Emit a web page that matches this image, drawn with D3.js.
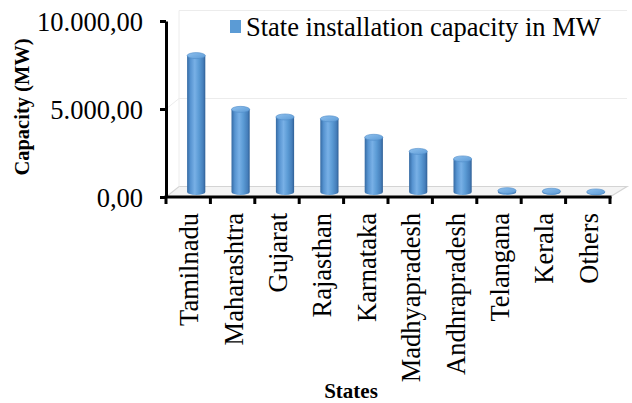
<!DOCTYPE html>
<html>
<head>
<meta charset="utf-8">
<script src="https://cdn.jsdelivr.net/npm/d3@7/dist/d3.min.js"></script>
<style>
  html, body { margin: 0; padding: 0; background: #fff; }
  svg { display: block; }
  text { font-family: "Liberation Serif", "Times New Roman", serif; fill: #000; }
</style>
</head>
<body>
<svg id="chart" width="632" height="403"></svg>
<script>
// Wind power installed capacity by state (MW)
const states = ["Tamilnadu", "Maharashtra", "Gujarat", "Rajasthan", "Karnataka",
                "Madhyapradesh", "Andhrapradesh", "Telangana", "Kerala", "Others"];
const capacity = [7684, 4655, 4227, 4123, 3082, 2288, 1866, 77, 43, 4];
const yTicks = [0, 5000, 10000];
const seriesName = "State installation capacity in MW";
const yTitle = "Capacity (MW)";
const xTitle = "States";

(function draw() {
  const svg = d3.select("#chart");
  const serif = "'Liberation Serif', 'Times New Roman', serif";

  // Front plane of the 3-D plot
  const plotL = 166, plotR = 610, plotB = 197, plotT = 21;
  // Depth of the floor / back wall and position of the cylinders inside it
  const depthX = 13, depthY = -10.5;
  const barDX = 8, barDY = -5;

  const x = d3.scaleBand().domain(states).range([plotL, plotR]).paddingInner(0).paddingOuter(0);
  const y = d3.scaleLinear().domain([0, 10000]).range([plotB, plotT]);
  const yBar = d3.scaleLinear().domain([0, 10000]).range([plotB + barDY, plotT + barDY - 1.5]);

  const locale = d3.formatLocale({ decimal: ",", thousands: ".", grouping: [3], currency: ["", ""] });
  const fmt = locale.format(",.2f");

  const defs = svg.append("defs");
  const grad = defs.append("linearGradient").attr("id", "cyl").attr("x1", "0").attr("x2", "1").attr("y1", "0").attr("y2", "0");
  [[0, "#356aa3"], [0.18, "#5693d0"], [0.42, "#78b0e6"], [0.65, "#5b9bd5"], [0.88, "#467fbb"], [1, "#2f5f95"]]
    .forEach(([o, c]) => grad.append("stop").attr("offset", o).attr("stop-color", c));
  const gradTop = defs.append("linearGradient").attr("id", "cylTop").attr("x1", "0").attr("x2", "1").attr("y1", "0").attr("y2", "1");
  [[0, "#8ec0ee"], [1, "#5d9bd6"]].forEach(([o, c]) => gradTop.append("stop").attr("offset", o).attr("stop-color", c));

  // Floor
  svg.append("polygon")
    .attr("points", [[plotL, plotB], [plotL + depthX, plotB + depthY], [plotR + depthX + 4, plotB + depthY], [plotR, plotB]].map(p => p.join(",")).join(" "))
    .attr("fill", "#f4f4f4").attr("stroke", "#d4d4d4").attr("stroke-width", 1.2);

  // Back wall grid lines
  svg.append("g").selectAll("line").data(yTicks.filter(v => v > 0)).join("line")
    .attr("x1", plotL + depthX).attr("x2", plotR + depthX + 4)
    .attr("y1", d => y(d) + depthY).attr("y2", d => y(d) + depthY)
    .attr("stroke", "#ececec").attr("stroke-width", 1);
  svg.append("line")
    .attr("x1", plotL + depthX).attr("x2", plotL + depthX)
    .attr("y1", y(10000) + depthY).attr("y2", plotB + depthY)
    .attr("stroke", "#ececec").attr("stroke-width", 1);
  svg.append("line")
    .attr("x1", plotL).attr("x2", plotL + depthX)
    .attr("y1", y(5000)).attr("y2", y(5000) + depthY)
    .attr("stroke", "#ececec").attr("stroke-width", 1);

  // Cylinders
  const bw = x.bandwidth() * 0.41;
  const ry = 3;
  const bars = svg.append("g").selectAll("g").data(states.map((s, i) => ({ s, v: capacity[i] }))).join("g");
  bars.append("path")
    .attr("d", d => {
      const cx = x(d.s) + x.bandwidth() / 2 + barDX;
      const y0 = yBar(0), y1 = yBar(d.v);
      const r = bw / 2;
      return `M${cx - r},${y1} L${cx - r},${y0} A${r},${ry} 0 0 0 ${cx + r},${y0} L${cx + r},${y1} Z`;
    })
    .attr("fill", "url(#cyl)");
  bars.append("ellipse")
    .attr("cx", d => x(d.s) + x.bandwidth() / 2 + barDX)
    .attr("cy", d => yBar(d.v))
    .attr("rx", bw / 2).attr("ry", ry)
    .attr("fill", "url(#cylTop)").attr("stroke", "#4f8cc8").attr("stroke-width", 0.6);

  // Y axis
  const yAxis = d3.axisLeft(y).tickValues(yTicks).tickSize(6).tickSizeOuter(0).tickFormat(fmt);
  const gy = svg.append("g").attr("transform", `translate(${plotL},0)`).call(yAxis);
  gy.select(".domain").attr("stroke", "#000").attr("stroke-width", 3);
  gy.selectAll(".tick line").attr("stroke", "#000").attr("stroke-width", 3);
  gy.selectAll(".tick text").attr("x", -23).attr("dy", "0.35em")
    .style("font-family", serif).style("font-size", "26.5px").attr("fill", "#000");

  // X axis
  svg.append("line").attr("x1", plotL - 1.5).attr("x2", plotR + 1.5).attr("y1", plotB).attr("y2", plotB)
    .attr("stroke", "#000").attr("stroke-width", 3);
  svg.append("g").selectAll("line").data(states.map(s => x(s)).concat([x.range()[1]])).join("line")
    .attr("x1", d => d).attr("x2", d => d).attr("y1", plotB).attr("y2", plotB + 7)
    .attr("stroke", "#000").attr("stroke-width", 3);
  svg.append("g").selectAll("text").data(states).join("text")
    .attr("transform", d => `translate(${x(d) + x.bandwidth() / 2 + 1},213) rotate(-90)`)
    .attr("text-anchor", "end").attr("dominant-baseline", "central")
    .style("font-size", "26.5px")
    .text(d => d);

  // Axis titles
  svg.append("text").attr("transform", "translate(22,107) rotate(-90)")
    .attr("text-anchor", "middle").attr("dominant-baseline", "central")
    .style("font-size", "20.5px").style("font-weight", "bold").text(yTitle);
  svg.append("text").attr("x", 351).attr("y", 398).attr("text-anchor", "middle")
    .style("font-size", "21px").style("font-weight", "bold").text(xTitle);

  // Legend
  const lg = svg.append("g").attr("transform", "translate(230,20)");
  lg.append("rect").attr("width", 11).attr("height", 13).attr("fill", "#5b9bd5");
  lg.append("text").attr("x", 16).attr("y", 16).style("font-size", "26.5px").text(seriesName);
})();
</script>
</body>
</html>
